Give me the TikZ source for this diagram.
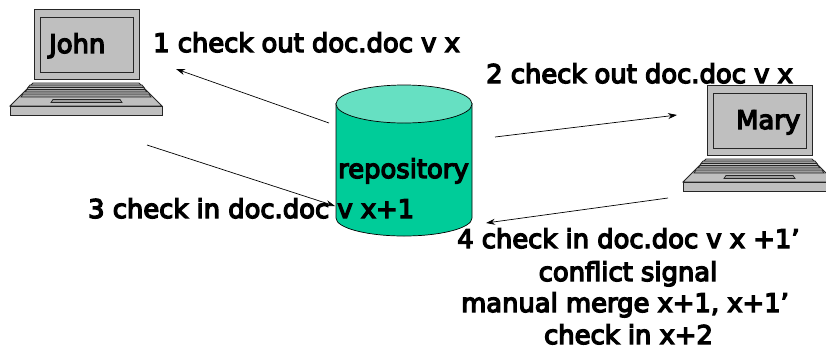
\documentclass[tikz,border=0pt]{standalone}
\usepackage{fontspec}
\setmainfont{DejaVu Sans}[RawFeature={embolden=5.2}]
\tikzset{
  lab/.style={anchor=base west,inner sep=0pt,font=\fontsize{25.8}{25.8}\selectfont},
  clab/.style={anchor=base,inner sep=0pt,font=\fontsize{25.8}{25.8}\selectfont},
  lk/.style={draw=black!85,line width=.9pt,fill=black!25},
  row/.style={draw=black!85,line width=.8pt,fill=black!38},
  flow/.style={draw=black,line width=.7pt,-{Stealth[length=9pt,width=6pt]}}
}
\usetikzlibrary{arrows.meta}
\newcommand{\laptop}[2]{%
 \begin{scope}[shift={(#1,#2)}]
  \draw[lk] (34,-9) rectangle (139,-79);
  \draw[lk] (40,-17) rectangle (133,-72);
  \draw[lk] (33,-83) -- (139,-83) -- (162,-106) -- (10,-106) -- cycle;
  \draw[lk] (10,-106) rectangle (162,-115);
  \draw[row] (30,-85) -- (142,-85) -- (144,-87.5) -- (28,-87.5) -- cycle;
  \draw[row] (27,-89.5) -- (145,-89.5) -- (147,-92) -- (25,-92) -- cycle;
  \draw[row] (23,-94) -- (149,-94) -- (151,-97) -- (21,-97) -- cycle;
  \draw[row] (53,-99.5) -- (120,-99.5) -- (122,-102.5) -- (51,-102.5) -- cycle;
 \end{scope}}
\begin{document}
\begin{tikzpicture}[x=1pt,y=1pt]
\useasboundingbox (0,0) rectangle (826,-349);
\laptop{0}{0}
\laptop{673}{-76}
% repository
\fill[fill={rgb,255:red,0;green,204;blue,153}] (336,-103) -- (336,-218) arc[start angle=180,end angle=360,x radius=68,y radius=18] -- (472,-103) -- cycle;
\draw[line width=.7pt] (336,-103) -- (336,-218) arc[start angle=180,end angle=360,x radius=68,y radius=18] -- (472,-103);
\draw[line width=.7pt,fill={rgb,255:red,102;green,224;blue,194}] (404,-104) ellipse[x radius=68,y radius=19];
\coordinate (a1s) at (329,-123); \coordinate (a1e) at (176,-69);
\coordinate (a2s) at (495,-137); \coordinate (a2e) at (677,-115);
\coordinate (a3s) at (147,-145); \coordinate (a3e) at (335,-206);
\coordinate (a4s) at (668,-198); \coordinate (a4e) at (486,-223);
\draw[flow] (a1s) -- (a1e);
\draw[flow] (a2s) -- (a2e);
\draw[flow] (a3s) -- (a3e);
\draw[flow] (a4s) -- (a4e);
\node[lab] (john) at (49,-53) {John};
\node[lab] (mary) at (736,-129) {Mary};
\node[lab] (t1) at (153,-52) {1 check out doc.doc v x};
\node[lab] (t2) at (486,-83) {2 check out doc.doc v x};
\node[lab] (repo) at (338,-178) {repository};
\node[lab] (t3) at (88,-218) {3 check in doc.doc v x+1};
\node[lab] (t4) at (457,-248) {4 check in doc.doc v x +1’};
\node[clab] (t5) at (628,-281) {conflict signal};
\node[clab] (t6) at (625,-312) {manual merge x+1, x+1’};
\node[clab] (t7) at (628.5,-344) {check in x+2};
\end{tikzpicture}
\end{document}
